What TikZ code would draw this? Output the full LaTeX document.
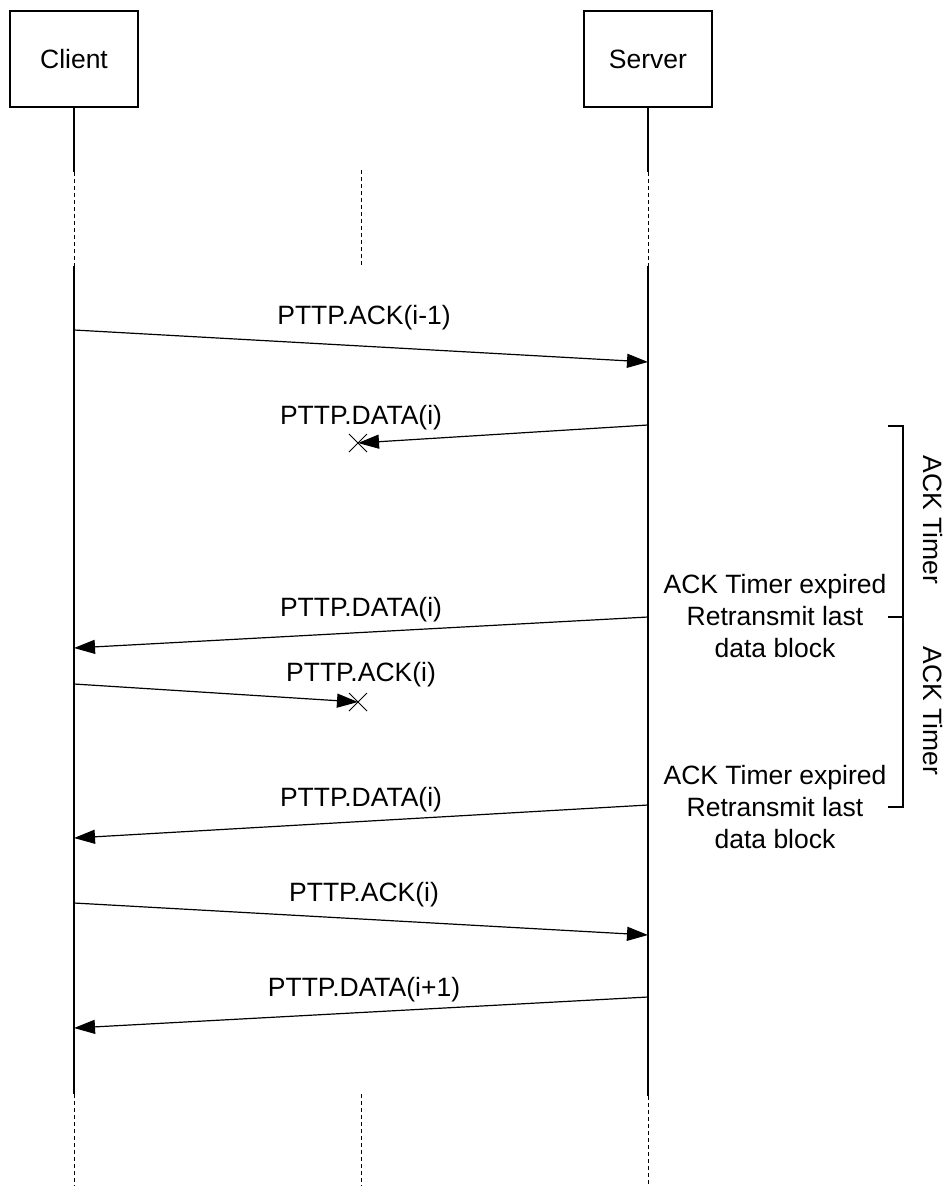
\documentclass[tikz,border=0pt]{standalone}
\usepackage{fontspec}
\setmainfont{Liberation Sans}
\usetikzlibrary{arrows.meta}
\begin{document}
\begin{tikzpicture}[x=1pt,y=-1pt,
  line width=1.2pt,
  txt/.style={font=\fontsize{26.5}{32}\selectfont, inner sep=0pt},
  actor/.style={txt, draw, minimum width=128pt, minimum height=96pt},
  lbl/.style={txt},
  note/.style={txt, align=center},
  lifedash/.style={dash pattern=on 4pt off 3pt, line width=1pt},
  msg/.style={-{Triangle[length=21pt,width=14pt]}},
  cross/.style={line width=1pt}
]
\useasboundingbox (0,0) rectangle (949,1186);

% actors
\node[actor] (client) at (74,59) {Client};
\node[actor] (server) at (648,59) {Server};

% lifelines
\coordinate (ca) at (74,172);  \coordinate (cb) at (74,266);
\coordinate (cc) at (74,1094); \coordinate (cd) at (74,1186);
\coordinate (sa) at (648,172); \coordinate (sb) at (648,266);
\coordinate (sc) at (648,1096); \coordinate (sd) at (648,1186);
\coordinate (ma) at (361,170); \coordinate (mb) at (361,265);
\coordinate (mc) at (361,1094); \coordinate (md) at (361,1186);
\draw (client.south) -- (ca);
\draw[lifedash] (ca) -- (cb);
\draw (cb) -- (cc);
\draw[lifedash] (cc) -- (cd);
\draw (server.south) -- (sa);
\draw[lifedash] (sa) -- (sb);
\draw (sb) -- (sc);
\draw[lifedash] (sc) -- (sd);
\draw[lifedash] (ma) -- (mb);
\draw[lifedash] (mc) -- (md);

% message 1
\coordinate (m1s) at (74,330); \coordinate (m1e) at (648,362);
\draw[msg] (m1s) -- (m1e);
\node[lbl] (l1) at (364,318) {PTTP.ACK(i-1)};

% message 2 (lost)
\coordinate (m2s) at (648,425); \coordinate (x1) at (358,443);
\draw[msg] (m2s) -- (x1);
\draw[cross] ([shift={(-9,-9)}]x1) -- ([shift={(9,9)}]x1);
\draw[cross] ([shift={(-9,9)}]x1) -- ([shift={(9,-9)}]x1);
\node[lbl] (l2) at (361,418) {PTTP.DATA(i)};

% message 3
\coordinate (m3s) at (648,617); \coordinate (m3e) at (74,648);
\draw[msg] (m3s) -- (m3e);
\node[lbl] (l3) at (361,610) {PTTP.DATA(i)};

% message 4 (lost)
\coordinate (m4s) at (74,684); \coordinate (x2) at (358,702);
\draw[msg] (m4s) -- (x2);
\draw[cross] ([shift={(-9,-9)}]x2) -- ([shift={(9,9)}]x2);
\draw[cross] ([shift={(-9,9)}]x2) -- ([shift={(9,-9)}]x2);
\node[lbl] (l4) at (361,675) {PTTP.ACK(i)};

% message 5
\coordinate (m5s) at (648,805); \coordinate (m5e) at (74,838);
\draw[msg] (m5s) -- (m5e);
\node[lbl] (l5) at (361,800) {PTTP.DATA(i)};

% message 6
\coordinate (m6s) at (74,903); \coordinate (m6e) at (648,935);
\draw[msg] (m6s) -- (m6e);
\node[lbl] (l6) at (364,895) {PTTP.ACK(i)};

% message 7
\coordinate (m7s) at (648,997); \coordinate (m7e) at (74,1028);
\draw[msg] (m7s) -- (m7e);
\node[lbl] (l7) at (364,990) {PTTP.DATA(i+1)};

% notes
\node[note] (n1) at (775,616) {ACK Timer expired\\Retransmit last\\data block};
\node[note] (n2) at (775,807) {ACK Timer expired\\Retransmit last\\data block};

% bracket
\coordinate (b1) at (903,426); \coordinate (b2) at (903,617); \coordinate (b3) at (903,807);
\coordinate (t1) at (888,426); \coordinate (t2) at (888,617); \coordinate (t3) at (888,807);
\draw (t1) -- (b1) -- (b3) -- (t3);
\draw (t2) -- (b2);
\node[lbl, rotate=-90] (k1) at (933,520) {ACK Timer};
\node[lbl, rotate=-90] (k2) at (933,711) {ACK Timer};
\end{tikzpicture}
\end{document}
